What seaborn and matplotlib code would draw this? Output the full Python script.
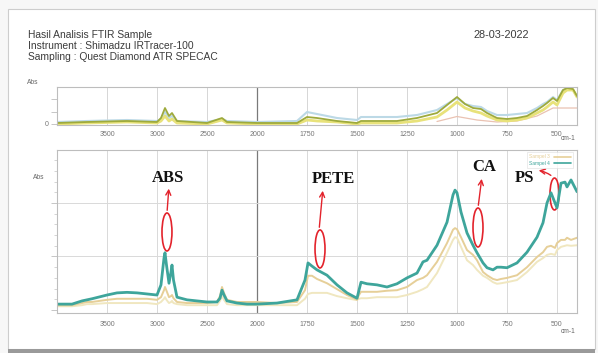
import numpy as np
import pandas as pd
import matplotlib
matplotlib.use("Agg")
import matplotlib.pyplot as plt
import seaborn as sns
from matplotlib.patches import Ellipse, Rectangle
from matplotlib.lines import Line2D
from matplotlib.ticker import FixedLocator, NullFormatter

# ---------------- data ----------------
wavenumber = [4000, 3850, 3750, 3700, 3650, 3500, 3400, 3300, 3200, 3100, 3000, 2960, 2930, 2920, 2905,
              2880, 2860, 2850, 2835, 2800, 2700, 2600, 2500, 2400, 2370, 2350, 2330, 2300, 2200, 2100,
              2000, 1900, 1800, 1760, 1745, 1725, 1700, 1650, 1600, 1550, 1510, 1500, 1490, 1480, 1450,
              1400, 1350, 1300, 1250, 1200, 1170, 1150, 1100, 1050, 1020, 1010, 1000, 980, 950, 920,
              900, 870, 850, 820, 800, 780, 750, 700, 650, 600, 570, 550, 530, 510, 500,
              480, 460, 450, 430, 400]

abs_teal = [0.011, 0.011, 0.017, 0.019, 0.021, 0.028, 0.032, 0.033, 0.032, 0.030, 0.028, 0.047, 0.097, 0.107, 0.084,
            0.050, 0.071, 0.084, 0.056, 0.024, 0.019, 0.017, 0.015, 0.015, 0.022, 0.037, 0.028, 0.017, 0.013, 0.011,
            0.011, 0.013, 0.019, 0.056, 0.088, 0.082, 0.075, 0.065, 0.047, 0.032, 0.024, 0.022, 0.037, 0.052, 0.049,
            0.047, 0.043, 0.049, 0.060, 0.069, 0.090, 0.093, 0.121, 0.164, 0.215, 0.224, 0.219, 0.183, 0.144, 0.121,
            0.107, 0.088, 0.079, 0.075, 0.080, 0.080, 0.079, 0.088, 0.108, 0.136, 0.163, 0.200, 0.219, 0.200, 0.191,
            0.237, 0.239, 0.230, 0.243, 0.221]

abs_tan = [0.009, 0.009, 0.013, 0.015, 0.015, 0.019, 0.021, 0.021, 0.021, 0.021, 0.019, 0.024, 0.037, 0.043, 0.036,
           0.024, 0.026, 0.028, 0.022, 0.015, 0.013, 0.013, 0.013, 0.015, 0.026, 0.043, 0.032, 0.019, 0.015, 0.015,
           0.015, 0.013, 0.015, 0.037, 0.064, 0.064, 0.058, 0.050, 0.039, 0.028, 0.021, 0.019, 0.028, 0.034, 0.034,
           0.034, 0.036, 0.037, 0.043, 0.056, 0.060, 0.065, 0.090, 0.125, 0.150, 0.153, 0.151, 0.136, 0.112, 0.103,
           0.093, 0.071, 0.065, 0.058, 0.056, 0.058, 0.060, 0.065, 0.080, 0.099, 0.108, 0.118, 0.120, 0.116, 0.125,
           0.131, 0.131, 0.135, 0.131, 0.135]

abs_pale = [0.007, 0.007, 0.009, 0.011, 0.011, 0.013, 0.013, 0.013, 0.013, 0.013, 0.011, 0.015, 0.021, 0.024, 0.019,
            0.013, 0.015, 0.017, 0.013, 0.011, 0.009, 0.009, 0.009, 0.009, 0.017, 0.026, 0.019, 0.011, 0.009, 0.009,
            0.009, 0.009, 0.009, 0.021, 0.030, 0.032, 0.032, 0.032, 0.026, 0.022, 0.019, 0.019, 0.021, 0.022, 0.022,
            0.024, 0.024, 0.024, 0.028, 0.034, 0.039, 0.043, 0.069, 0.107, 0.131, 0.136, 0.135, 0.118, 0.093, 0.084,
            0.075, 0.064, 0.060, 0.052, 0.049, 0.050, 0.052, 0.056, 0.071, 0.090, 0.097, 0.103, 0.105, 0.103, 0.112,
            0.118, 0.120, 0.121, 0.120, 0.121]

top_wavenumber = [4000, 3700, 3300, 3000, 2960, 2920, 2880, 2850, 2800, 2500, 2350, 2300, 2000, 1800, 1750,
                  1700, 1600, 1500, 1480, 1300, 1200, 1100, 1050, 1000, 960, 920, 880, 850, 800, 750,
                  700, 650, 600, 570, 550, 520, 500, 470, 450, 420, 400]
top_olive = [0.04, 0.08, 0.12, 0.08, 0.24, 0.64, 0.32, 0.44, 0.12, 0.04, 0.24, 0.08, 0.04, 0.04, 0.28,
             0.24, 0.12, 0.04, 0.12, 0.12, 0.24, 0.44, 0.76, 1.08, 0.80, 0.64, 0.60, 0.44, 0.24, 0.20,
             0.24, 0.32, 0.56, 0.72, 0.84, 1.04, 0.92, 1.36, 1.44, 1.40, 1.12]
top_blue = [0.08, 0.12, 0.16, 0.12, 0.20, 0.48, 0.24, 0.32, 0.12, 0.08, 0.20, 0.12, 0.08, 0.12, 0.48,
            0.40, 0.24, 0.16, 0.28, 0.28, 0.36, 0.56, 0.80, 1.04, 0.80, 0.72, 0.68, 0.52, 0.36, 0.36,
            0.40, 0.44, 0.64, 0.80, 0.88, 1.08, 0.96, 1.36, 1.40, 1.36, 1.12]
top_yellow = [0.00, 0.04, 0.08, 0.04, 0.12, 0.32, 0.12, 0.20, 0.04, 0.00, 0.16, 0.04, 0.00, 0.00, 0.16,
              0.12, 0.08, 0.00, 0.04, 0.04, 0.12, 0.28, 0.56, 0.88, 0.64, 0.52, 0.44, 0.32, 0.16, 0.12,
              0.16, 0.24, 0.44, 0.56, 0.68, 0.88, 0.76, 1.24, 1.36, 1.36, 1.08]
pink_wavenumber = [1100, 1000, 900, 800, 700, 600, 550, 520, 500, 450, 400]
top_pink = [0.10, 0.30, 0.16, 0.08, 0.12, 0.32, 0.52, 0.64, 0.64, 0.64, 0.64]

major_ticks = [3500, 3000, 2500, 2000, 1750, 1500, 1250, 1000, 750, 500]
major_labels = ["3500", "3000", "2500", "2000", "1750", "1500", "1250", "1000", "750", "500"]
legend_labels = ["Sampel 3", "Sampel 4"]

header_lines = ["Hasil Analisis FTIR Sample",
                "Instrument : Shimadzu IRTracer-100",
                "Sampling : Quest Diamond ATR SPECAC"]
date_text = "28-03-2022"

# ---------------- style ----------------
sns.set_theme(style="white")
plt.rcParams["font.family"] = ["Liberation Sans", "DejaVu Sans"]

TEAL = "#3ea59b"
TAN = "#e6cf98"
PALE = "#f0e7c0"
RED = "#e3232c"


def fwd(x):
    x = np.asarray(x, dtype=float)
    return np.where(x >= 2000, x, 2 * x - 2000)


def inv(y):
    y = np.asarray(y, dtype=float)
    return np.where(y >= 2000, y, (y + 2000) / 2)


minor_x = [v for v in range(3900, 2000, -100) if v not in major_ticks] + \
          [v for v in range(1950, 400, -50) if v not in major_ticks]

fig = plt.figure(figsize=(5.98, 3.53), dpi=100, facecolor="#f7f7f7")

# page frame
fig.add_artist(Rectangle((0.0134, 0.0113), 0.9816, 0.9632, transform=fig.transFigure,
                         facecolor="white", edgecolor="#cdcdcd", lw=0.8, zorder=-10))
fig.add_artist(Rectangle((0.0134, 0.0), 0.9816, 0.0113, transform=fig.transFigure,
                         facecolor="#9a9a9a", edgecolor="none", zorder=-10))

W = 0.8696
ax_top = fig.add_axes([0.0953, 0.6459, W, 0.1076])
ax = fig.add_axes([0.0953, 0.1133, W, 0.4618])


def style_axis(a, pad):
    a.set_xscale("function", functions=(fwd, inv))
    a.set_xlim(4000, 400)
    a.xaxis.set_major_locator(FixedLocator(major_ticks))
    a.set_xticklabels(major_labels)
    a.xaxis.set_minor_locator(FixedLocator(minor_x))
    a.xaxis.set_minor_formatter(NullFormatter())
    for s in a.spines.values():
        s.set_color("#bdbdbd")
        s.set_linewidth(0.8)
    a.tick_params(axis="x", which="major", direction="inout", length=4, width=0.6,
                  colors="#bdbdbd", labelcolor="#777777", labelsize=5, pad=pad)
    a.tick_params(axis="x", which="minor", direction="inout", length=2.5, width=0.5, colors="#c4c4c4")
    a.tick_params(axis="y", which="major", direction="out", length=4, width=0.6,
                  colors="#bdbdbd", labelcolor="#777777", labelsize=5, pad=2, left=True)
    a.tick_params(axis="y", which="minor", direction="out", length=2, width=0.5, colors="#c4c4c4", left=True)
    a.set_xlabel("")
    a.set_ylabel("")
    a.set_facecolor("white")


# ---------------- top overview panel ----------------
sns.lineplot(x=top_wavenumber, y=top_blue, ax=ax_top, color="#bcd9e6", lw=1.5, estimator=None, legend=False)
sns.lineplot(x=pink_wavenumber, y=top_pink, ax=ax_top, color="#eac2b2", lw=0.9, estimator=None, legend=False)
sns.lineplot(x=top_wavenumber, y=top_yellow, ax=ax_top, color="#e8e27a", lw=2.0, estimator=None, legend=False)
sns.lineplot(x=top_wavenumber, y=top_olive, ax=ax_top, color="#9eaa3c", lw=1.3, estimator=None, legend=False)
style_axis(ax_top, 2)
ax_top.set_ylim(-0.04, 1.48)
ax_top.yaxis.set_major_locator(FixedLocator([0, 0.5, 1.0]))
ax_top.set_yticklabels(["0", "", ""])
for v in major_ticks:
    ax_top.axvline(v, color="#7a7a7a" if v == 2000 else "#d6d6d6",
                   lw=0.9 if v == 2000 else 0.7, zorder=0)

# ---------------- main panel ----------------
sns.lineplot(x=wavenumber, y=abs_pale, ax=ax, color=PALE, lw=1.4, estimator=None, legend=False)
sns.lineplot(x=wavenumber, y=abs_tan, ax=ax, color=TAN, lw=1.4, estimator=None, legend=False)
sns.lineplot(x=wavenumber, y=abs_teal, ax=ax, color=TEAL, lw=2.0, estimator=None, legend=False)
style_axis(ax, 4)
ax.set_ylim(-0.0056, 0.299)
ax.yaxis.set_major_locator(FixedLocator([0, 0.1, 0.2]))
ax.yaxis.set_minor_locator(FixedLocator([0.02, 0.04, 0.06, 0.08, 0.12, 0.14, 0.16, 0.18,
                                          0.22, 0.24, 0.26, 0.28]))
ax.set_yticklabels(["", "", ""])
for v in major_ticks:
    ax.axvline(v, color="#7a7a7a" if v == 2000 else "#d9d9d9",
               lw=0.9 if v == 2000 else 0.7, zorder=0)
for v in [0.1, 0.2]:
    ax.axhline(v, color="#d9d9d9", lw=0.7, zorder=0)

handles = [Line2D([], [], color=TAN, lw=1.2), Line2D([], [], color=TEAL, lw=1.2)]
leg = ax.legend(handles, legend_labels, loc="upper right", bbox_to_anchor=(0.997, 1.0),
                fontsize=3.5, frameon=True, markerfirst=False, handlelength=3.5,
                borderpad=0.4, labelspacing=0.3, labelcolor="linecolor", fancybox=False)
leg.get_frame().set_edgecolor("#dddddd")
leg.get_frame().set_linewidth(0.5)

# ---------------- annotations ----------------
ann = [
    ("ABS", (0.2135, 0.828), (0.2115, 0.497), 0.233, (0.2115, 0.613), (0.2154, 0.780)),
    ("PETE", (0.5317, 0.822), (0.5058, 0.393), 0.233, (0.5040, 0.509), (0.5115, 0.767)),
    ("CA", (0.8220, 0.893), (0.8096, 0.5245), 0.239, (0.8096, 0.644), (0.8173, 0.840)),
]
for label, tpos, epos, eh, a0, a1 in ann:
    ax.text(*tpos, label, transform=ax.transAxes, ha="center", va="center",
            fontsize=12, fontweight="bold", family=["Liberation Serif", "DejaVu Serif"], color="#111111")
    ax.add_patch(Ellipse(epos, 0.0192, eh, transform=ax.transAxes, fill=False, edgecolor=RED, lw=1.2))
    ax.annotate("", xy=a1, xytext=a0, xycoords="axes fraction", textcoords="axes fraction",
                arrowprops=dict(arrowstyle="->", color=RED, lw=1.0, mutation_scale=9))

ax.text(0.900, 0.831, "PS", transform=ax.transAxes, ha="center", va="center",
        fontsize=12, fontweight="bold", family=["Liberation Serif", "DejaVu Serif"], color="#111111")
ax.add_patch(Ellipse((0.9567, 0.730), 0.0173, 0.196, transform=ax.transAxes,
                     fill=False, edgecolor=RED, lw=1.2))
ax.annotate("", xy=(0.921, 0.877), xytext=(0.954, 0.834), xycoords="axes fraction",
            textcoords="axes fraction",
            arrowprops=dict(arrowstyle="->", color=RED, lw=1.0, mutation_scale=9,
                            connectionstyle="arc3,rad=0.15"))

# ---------------- page texts ----------------
for i, line in enumerate(header_lines):
    fig.text(0.0468, [0.9008, 0.8711, 0.8399][i], line, fontsize=7.4, color="#3c3c3c", va="center")
fig.text(0.791, 0.9008, date_text, fontsize=7.8, color="#3c3c3c", va="center")
fig.text(0.045, 0.765, "Abs", fontsize=4.8, color="#666666", va="center")
fig.text(0.055, 0.496, "Abs", fontsize=4.8, color="#666666", va="center")
fig.text(0.962, 0.609, "cm-1", fontsize=4.8, color="#666666", va="center", ha="right")
fig.text(0.962, 0.062, "cm-1", fontsize=4.8, color="#666666", va="center", ha="right")

fig.savefig("out.png", dpi=100, facecolor=fig.get_facecolor())
